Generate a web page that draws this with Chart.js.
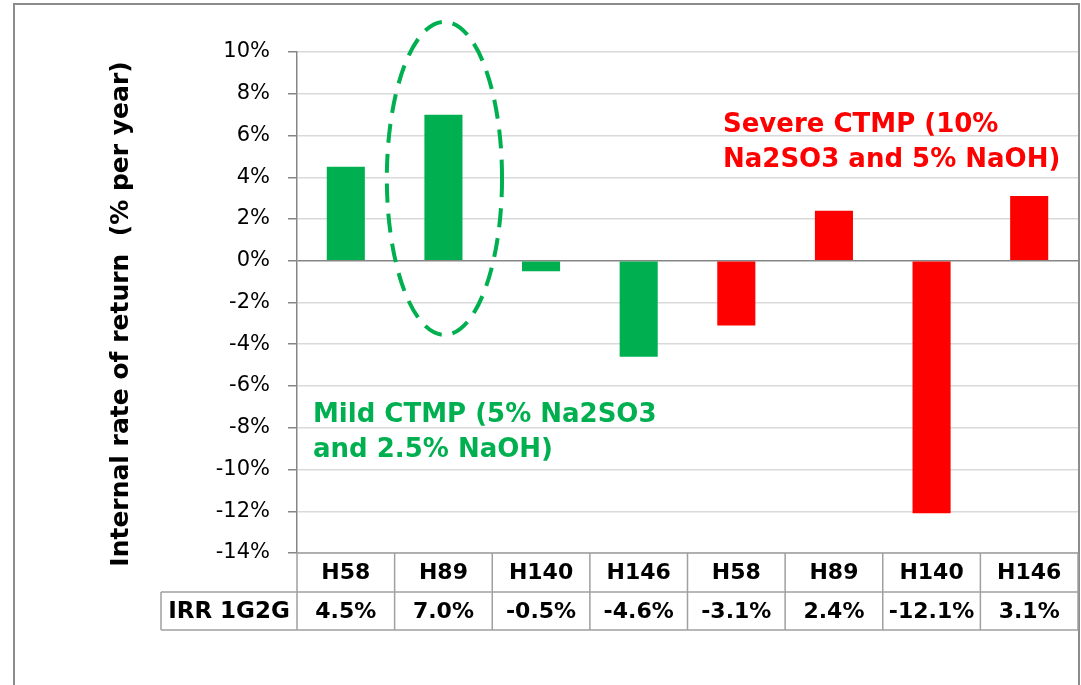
<!DOCTYPE html>
<html>
<head>
<meta charset="utf-8">
<script src="https://cdn.jsdelivr.net/npm/chart.js@4.4.1/dist/chart.umd.min.js"></script>
<style>
  body { margin: 0; background: #fff; }
  #wrap { width: 1081px; height: 685px; }
</style>
</head>
<body>
<div id="wrap"><canvas id="irrChart" width="1081" height="685"></canvas></div>
<script>
// categories and values
const hybrids = ['H58', 'H89', 'H140', 'H146', 'H58', 'H89', 'H140', 'H146'];
const irr1G2G = [4.5, 7.0, -0.5, -4.6, -3.1, 2.4, -12.1, 3.1];
const process = ['mild', 'mild', 'mild', 'mild', 'severe', 'severe', 'severe', 'severe'];
const yTicks = { min: -14, max: 10, step: 2 };

const GREEN = '#00B050';
const RED = '#FF0000';

const barColors = process.map(p => p === 'mild' ? GREEN : RED);

// draws the frame, axis title, the data table under the plot and the notes
const extras = {
  id: 'extras',
  afterDatasetsDraw(chart) {
    const ctx = chart.ctx;
    const x = chart.scales.x;
    const y = chart.scales.y;
    const area = chart.chartArea;
    const catW = x.getPixelForValue(1) - x.getPixelForValue(0);

    // dashed ellipse round the H89 mild bar
    ctx.save();
    const top = y.getPixelForValue(11.45);
    const bot = y.getPixelForValue(-3.55);
    ctx.strokeStyle = GREEN;
    ctx.lineWidth = 4;
    ctx.setLineDash([19, 11]);
    ctx.beginPath();
    ctx.ellipse(x.getPixelForValue(1) + 1, (top + bot) / 2, catW * 0.59, (bot - top) / 2, 0, 0, Math.PI * 2);
    ctx.stroke();
    ctx.restore();
  },
  afterDraw(chart) {
    const ctx = chart.ctx;
    const x = chart.scales.x;
    const area = chart.chartArea;
    const catW = x.getPixelForValue(1) - x.getPixelForValue(0);

    ctx.save();
    // outer frame
    ctx.strokeStyle = '#8c8c8c';
    ctx.lineWidth = 2;
    ctx.strokeRect(14, 4, 1065, 720);

    // y axis title
    ctx.save();
    ctx.translate(121, 314);
    ctx.rotate(-Math.PI / 2);
    ctx.fillStyle = '#000';
    ctx.font = 'bold 25px "DejaVu Sans"';
    ctx.textAlign = 'center';
    ctx.textBaseline = 'middle';
    ctx.fillText('Internal rate of return  (% per year)', 0, 0);
    ctx.restore();

    // data table
    const row0 = area.bottom;
    const row1 = row0 + 39;
    const row2 = row1 + 38;
    const labelLeft = 161;
    ctx.strokeStyle = '#a0a0a0';
    ctx.lineWidth = 1.5;
    ctx.beginPath();
    ctx.moveTo(area.left, row0); ctx.lineTo(area.right, row0);
    ctx.moveTo(labelLeft, row1); ctx.lineTo(area.right, row1);
    ctx.moveTo(labelLeft, row2); ctx.lineTo(area.right, row2);
    ctx.moveTo(labelLeft, row1); ctx.lineTo(labelLeft, row2);
    for (let i = 0; i <= hybrids.length; i++) {
      const bx = x.getPixelForValue(i) - catW / 2;
      ctx.moveTo(bx, row0); ctx.lineTo(bx, row2);
    }
    ctx.stroke();

    ctx.fillStyle = '#000';
    ctx.textAlign = 'center';
    ctx.textBaseline = 'middle';
    ctx.font = 'bold 22px "DejaVu Sans"';
    hybrids.forEach((h, i) => {
      const cx = x.getPixelForValue(i);
      ctx.fillText(h, cx, (row0 + row1) / 2 + 1);
      ctx.fillText(irr1G2G[i].toFixed(1) + '%', cx, (row1 + row2) / 2 + 1);
    });
    ctx.font = 'bold 23px "DejaVu Sans"';
    ctx.fillText('IRR 1G2G', (labelLeft + area.left) / 2, (row1 + row2) / 2 + 1);

    // notes
    ctx.textAlign = 'left';
    ctx.textBaseline = 'alphabetic';
    ctx.font = 'bold 26px "DejaVu Sans"';
    ctx.fillStyle = RED;
    ctx.fillText('Severe CTMP (10%', 723, 132);
    ctx.fillText('Na2SO3 and 5% NaOH)', 723, 167);
    ctx.fillStyle = GREEN;
    ctx.fillText('Mild CTMP (5% Na2SO3', 313, 422);
    ctx.fillText('and 2.5% NaOH)', 313, 457);
    ctx.restore();
  }
};

new Chart(document.getElementById('irrChart').getContext('2d'), {
  type: 'bar',
  data: {
    labels: hybrids,
    datasets: [{
      label: 'IRR 1G2G',
      data: irr1G2G,
      backgroundColor: barColors,
      borderWidth: 0,
      categoryPercentage: 1,
      barPercentage: 0.39
    }]
  },
  options: {
    responsive: false,
    animation: false,
    layout: { padding: { left: 0, right: 3, top: 52, bottom: 132 } },
    plugins: {
      legend: { display: false },
      tooltip: { enabled: false }
    },
    scales: {
      x: {
        display: false
      },
      y: {
        min: yTicks.min,
        max: yTicks.max,
        afterFit(scale) { scale.width = 297; },
        afterBuildTicks(scale) {
          const t = [];
          for (let v = yTicks.min; v <= yTicks.max; v += yTicks.step) t.push({ value: v });
          scale.ticks = t;
        },
        ticks: {
          padding: 18,
          color: '#000',
          font: { family: '"DejaVu Sans"', size: 21 },
          callback: v => v + '%'
        },
        grid: {
          color: c => c.tick && c.tick.value === 0 ? '#868686' : '#d9d9d9',
          lineWidth: 1.5,
          tickLength: 9,
          tickColor: '#868686'
        },
        border: { color: '#868686', width: 1.5 }
      }
    }
  },
  plugins: [extras]
});
</script>
</body>
</html>
